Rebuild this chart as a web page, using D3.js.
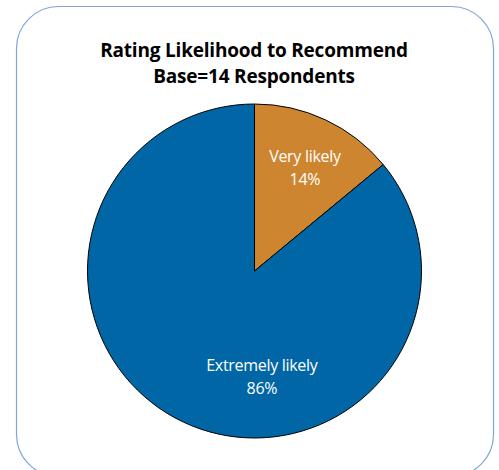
<!DOCTYPE html>
<html><head><meta charset="utf-8">
<script src="https://cdn.jsdelivr.net/npm/d3@7"></script>
<style>body{margin:0;background:#fff}svg{display:block}</style>
</head><body>
<svg id="c" width="499" height="470"></svg>
<script>
const titleLines = ["Rating Likelihood to Recommend", "Base=14 Respondents"];
const categories = ["Very likely", "Extremely likely"];
const values = [14, 86];
const colors = ["#CE852F", "#0066A6"];

const svg = d3.select("#c");
svg.append("rect").attr("x",16.5).attr("y",6.5).attr("width",477).attr("height",470)
  .attr("rx",42).attr("ry",42).attr("fill","#fff").attr("stroke","#7FA6DA").attr("stroke-width",1.2);

const FONT = "'Open Sans', sans-serif";
const title = svg.append("text").attr("class","title").attr("text-anchor","middle")
  .attr("font-family",FONT).attr("font-weight","bold").attr("font-size",19)
  .attr("letter-spacing",-0.2).attr("fill","#000");
title.selectAll("tspan").data(titleLines).join("tspan")
  .attr("x",254).attr("y",(d,i)=>57+i*26).text(d=>d);

const cx=254.5, cy=271, R=167;
const g = svg.append("g").attr("transform",`translate(${cx},${cy})`);
const pie = d3.pie().sort(null).value(d=>d)(values);
const arc = d3.arc().innerRadius(0).outerRadius(R);
g.selectAll("path").data(pie).join("path").attr("d",arc)
  .attr("fill",(d,i)=>colors[i]).attr("stroke","#000").attr("stroke-width",1);

const labelPos = [{a:26*Math.PI/180, r:115},{a:176*Math.PI/180, r:106}];
pie.forEach((d,i)=>{
  const p = labelPos[i];
  const x = Math.sin(p.a)*p.r, y = -Math.cos(p.a)*p.r;
  const t = g.append("text").attr("text-anchor","middle")
    .attr("font-family",FONT).attr("font-size",16).attr("letter-spacing",-0.3).attr("fill","#fff");
  t.append("tspan").attr("x",x).attr("y",y-6).text(categories[i]);
  t.append("tspan").attr("x",x).attr("y",y+17).text(d3.format(".0%")(values[i]/100));
});
</script>
</body></html>
